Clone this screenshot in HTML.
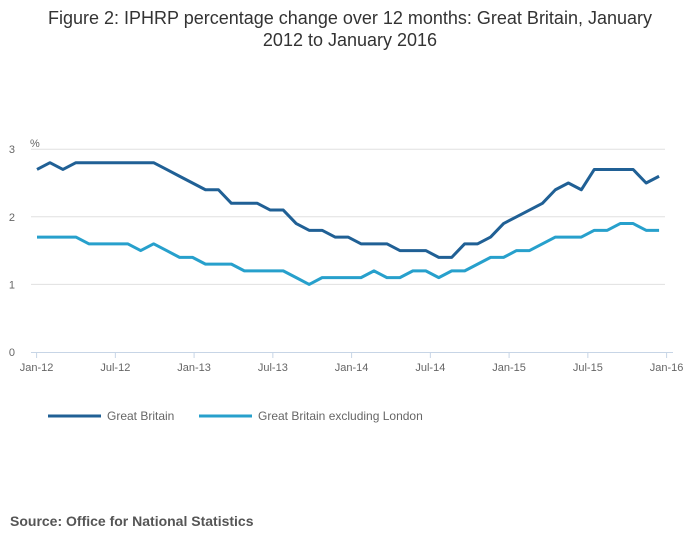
<!DOCTYPE html>
<html><head><meta charset="utf-8"><style>
body{margin:0;background:#fff;font-family:"Liberation Sans",sans-serif}
#wrap{position:relative;width:700px;height:549px;overflow:hidden}
</style></head><body>
<div id="wrap">
<svg id="chart" width="700" height="549"></svg>
</div>
<script>
const months = ["Jan-12","Jul-12","Jan-13","Jul-13","Jan-14","Jul-14","Jan-15","Jul-15","Jan-16"];
const yTicks = [0,1,2,3];
const gb = [2.7,2.8,2.7,2.8,2.8,2.8,2.8,2.8,2.8,2.8,2.7,2.6,
  2.5,2.4,2.4,2.2,2.2,2.2,2.1,2.1,1.9,1.8,1.8,1.7,
  1.7,1.6,1.6,1.6,1.5,1.5,1.5,1.4,1.4,1.6,1.6,1.7,
  1.9,2.0,2.1,2.2,2.4,2.5,2.4,2.7,2.7,2.7,2.7,2.5,2.6];
const gbExLondon = [1.7,1.7,1.7,1.7,1.6,1.6,1.6,1.6,1.5,1.6,1.5,1.4,
  1.4,1.3,1.3,1.3,1.2,1.2,1.2,1.2,1.1,1.0,1.1,1.1,
  1.1,1.1,1.2,1.1,1.1,1.2,1.2,1.1,1.2,1.2,1.3,1.4,
  1.4,1.5,1.5,1.6,1.7,1.7,1.7,1.8,1.8,1.9,1.9,1.8,1.8];
const NS="http://www.w3.org/2000/svg";
const svg=document.getElementById('chart');
function x(i){return 37+i*12.96;}
function tickX(k){return 36.6+k*78.75;}
function y(v){return 352-v*67.6;}
function mk(tag,attrs,parent){const e=document.createElementNS(NS,tag);for(const k in attrs)e.setAttribute(k,attrs[k]);(parent||svg).appendChild(e);return e;}
let t=mk('text',{x:350,y:24,'text-anchor':'middle','font-size':18,fill:'#333'});


t.innerHTML='<tspan x="350" y="24">Figure 2: IPHRP percentage change over 12 months: Great Britain, January</tspan><tspan x="350" y="46">2012 to January 2016</tspan>';
t=mk('text',{x:30,y:147,'font-size':11,fill:'#666'});t.textContent='%';


yTicks.forEach(v=>{
  if(v>0){const g=mk('line',{x1:31,x2:665,y1:y(v),y2:y(v),stroke:'#e0e0e0','stroke-width':1});
  
  }
  const l=mk('text',{x:15,y:y(v)+4,'text-anchor':'end','font-size':11,fill:'#666'});l.textContent=v;
  
  
});
let ax=mk('line',{x1:31,x2:673,y1:352.5,y2:352.5,stroke:'#c7d5e6','stroke-width':1});


months.forEach((m,k)=>{
  const tk=mk('line',{x1:tickX(k),x2:tickX(k),y1:352,y2:358,stroke:'#c7d5e6'});
  
  
  const l=mk('text',{x:tickX(k),y:371,'text-anchor':'middle','font-size':11,fill:'#666'});l.textContent=m;
  
  
});
function line(data,color,name){
  const p=mk('polyline',{points:data.map((v,i)=>x(i)+','+y(v)).join(' '),fill:'none',stroke:color,'stroke-width':3,'stroke-linejoin':'round'});
  
  
}
line(gbExLondon,'#27a0cc','series-gb-excluding-london');
line(gb,'#206095','series-great-britain');
function leg(x0,color,label,name){
  const g=mk('g',{});
  
  
  mk('line',{x1:x0,x2:x0+53,y1:416,y2:416,stroke:color,'stroke-width':3},g);
  const l=mk('text',{x:x0+59,y:420,'font-size':12,fill:'#666'},g);l.textContent=label;
}
leg(48,'#206095','Great Britain','legend-great-britain');
leg(199,'#27a0cc','Great Britain excluding London','legend-gb-excluding-london');
t=mk('text',{x:10,y:526,'font-size':14,'font-weight':'bold',fill:'#555'});t.textContent='Source: Office for National Statistics';


</script>
</body></html>
